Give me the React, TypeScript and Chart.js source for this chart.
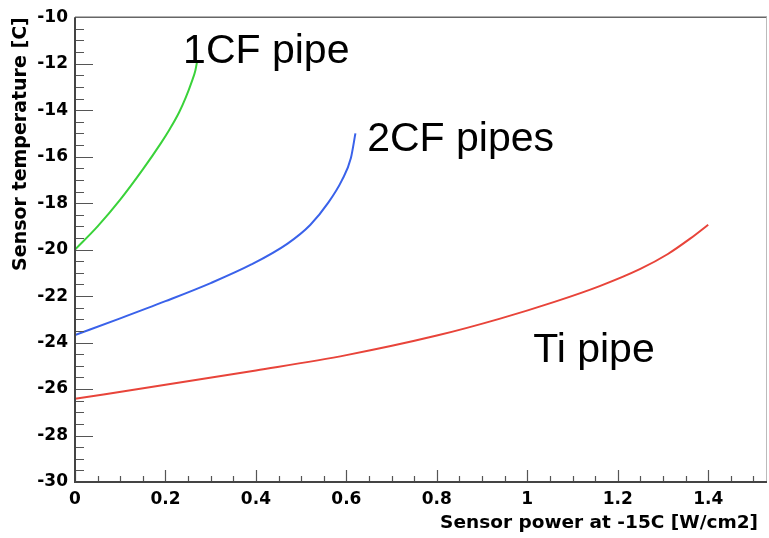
import React, { useEffect, useRef } from 'react';
import { Chart, registerables } from 'chart.js';

Chart.register(...registerables);

// ---- data ----
const seriesNames = ['1CF pipe', '2CF pipes', 'Ti pipe'];

const green1CFx = [0, 0.05, 0.1, 0.15, 0.19, 0.21, 0.23, 0.245, 0.258, 0.266, 0.27];
const green1CFy = [-20.0, -19.0, -17.85, -16.55, -15.42, -14.8, -14.1, -13.45, -12.78, -12.3, -11.9];

const blue2CFx = [0, 0.1, 0.2, 0.3, 0.39, 0.47, 0.52, 0.56, 0.59, 0.61, 0.62];
const blue2CFy = [-23.68, -22.96, -22.22, -21.44, -20.64, -19.74, -18.94, -17.98, -17.02, -16.06, -15.0];

const redTix = [0, 0.2, 0.4, 0.6, 0.8, 0.94, 1.06, 1.16, 1.25, 1.31, 1.36, 1.4];
const redTiy = [-26.42, -25.82, -25.2, -24.54, -23.7, -22.97, -22.25, -21.57, -20.83, -20.2, -19.53, -18.93];

const xTickLabels = ['0', '0.2', '0.4', '0.6', '0.8', '1', '1.2', '1.4'];
const yTickLabels = ['-30', '-28', '-26', '-24', '-22', '-20', '-18', '-16', '-14', '-12', '-10'];

const xTitle = 'Sensor power at -15C [W/cm2]';
const yTitle = 'Sensor temperature [C]';

const toPoints = (xs: number[], ys: number[]) => xs.map((x, i) => ({ x, y: ys[i] }));

const rootFramePlugin = {
  id: 'rootFrame',
  afterDatasetsDraw(chart: any, _args: any, opts: any) {
    const { ctx, chartArea: a, scales } = chart;
    const xs = scales.x;
    const ys = scales.y;
    ctx.save();
    // inner ticks
    ctx.strokeStyle = '#555';
    ctx.lineWidth = 1.2;
    ctx.beginPath();
    for (let i = 0; ; i++) {
      const v = i * 0.05;
      if (v > xs.max + 1e-9) break;
      const px = Math.round(xs.getPixelForValue(v)) + 0.5;
      const len = i % 4 === 0 ? 12 : 6;
      ctx.moveTo(px, a.bottom);
      ctx.lineTo(px, a.bottom - len);
    }
    for (let i = 0; ; i++) {
      const v = ys.min + i * 0.5;
      if (v > ys.max + 1e-9) break;
      const py = Math.round(ys.getPixelForValue(v)) + 0.5;
      const len = i % 4 === 0 ? 18 : 9;
      ctx.moveTo(a.left, py);
      ctx.lineTo(a.left + len, py);
    }
    ctx.stroke();
    // frame
    ctx.strokeStyle = '#666';
    ctx.lineWidth = 1.5;
    ctx.beginPath();
    ctx.moveTo(a.left, a.top);
    ctx.lineTo(a.right, a.top);
    ctx.stroke();
    ctx.strokeStyle = '#bbb';
    ctx.lineWidth = 1;
    ctx.beginPath();
    ctx.moveTo(a.right - 0.5, a.top);
    ctx.lineTo(a.right - 0.5, a.bottom);
    ctx.stroke();
    ctx.strokeStyle = '#444';
    ctx.lineWidth = 2;
    ctx.beginPath();
    ctx.moveTo(a.left, a.top);
    ctx.lineTo(a.left, a.bottom);
    ctx.lineTo(a.right, a.bottom);
    ctx.stroke();
    // x axis title (right aligned, slightly inside the frame edge)
    ctx.fillStyle = '#000';
    ctx.font = 'bold 18.5px "DejaVu Sans", Verdana, sans-serif';
    ctx.textAlign = 'right';
    ctx.textBaseline = 'alphabetic';
    ctx.fillText(opts.xTitle, a.right - 9, a.bottom + 46);
    // curve labels
    ctx.font = '41px "Liberation Sans", Arial, Helvetica, sans-serif';
    ctx.textAlign = 'left';
    (opts.labels || []).forEach((l: any) => {
      ctx.fillText(l.text, xs.getPixelForValue(l.x), ys.getPixelForValue(l.y));
    });
    ctx.restore();
  },
};

export default function App() {
  const canvasRef = useRef<HTMLCanvasElement | null>(null);

  useEffect(() => {
    document.body.style.margin = '0';
    document.body.style.background = '#fff';
    const canvas = canvasRef.current;
    if (!canvas) return;
    const tickFont = { family: '"DejaVu Sans", Verdana, sans-serif', size: 17, weight: 'bold' as const };
    const lineDefaults = {
      showLine: true,
      pointRadius: 0,
      borderWidth: 2,
      cubicInterpolationMode: 'monotone' as const,
    };
    const chart = new Chart(canvas, {
      type: 'scatter',
      data: {
        datasets: [
          { label: seriesNames[0], data: toPoints(green1CFx, green1CFy), borderColor: '#3ad23a', ...lineDefaults },
          { label: seriesNames[1], data: toPoints(blue2CFx, blue2CFy), borderColor: '#3a62ea', ...lineDefaults },
          { label: seriesNames[2], data: toPoints(redTix, redTiy), borderColor: '#e8443a', ...lineDefaults },
        ],
      },
      options: {
        animation: false,
        responsive: true,
        maintainAspectRatio: false,
        layout: { padding: { top: 14, right: 2, left: 0, bottom: 0 } },
        plugins: {
          legend: { display: false },
          tooltip: { enabled: false },
          rootFrame: {
            xTitle,
            labels: [
              { text: seriesNames[0], x: 0.239, y: -11.95 },
              { text: seriesNames[1], x: 0.646, y: -15.75 },
              { text: seriesNames[2], x: 1.013, y: -24.85 },
            ],
          },
        } as any,
        scales: {
          x: {
            type: 'linear',
            min: 0,
            max: 1.53,
            border: { display: false },
            grid: { display: false, drawTicks: false },
            ticks: {
              stepSize: 0.2,
              includeBounds: false,
              autoSkip: false,
              maxRotation: 0,
              padding: 7,
              color: '#000',
              font: tickFont,
              callback: (v: any) => {
                const i = Math.round(Number(v) / 0.2);
                return xTickLabels[i] ?? '';
              },
            },
            title: { display: false },
            afterFit: (scale: any) => {
              scale.height = 56;
            },
          },
          y: {
            type: 'linear',
            min: -30,
            max: -10,
            border: { display: false },
            grid: { display: false, drawTicks: false },
            ticks: {
              stepSize: 2,
              includeBounds: false,
              autoSkip: false,
              padding: 7,
              color: '#000',
              font: tickFont,
              callback: (v: any) => {
                const i = Math.round((Number(v) + 30) / 2);
                return yTickLabels[i] ?? '';
              },
            },
            title: {
              display: true,
              text: yTitle,
              align: 'end',
              color: '#000',
              font: { family: '"DejaVu Sans", Verdana, sans-serif', size: 19, weight: 'bold' },
              padding: { top: 10, bottom: 0 },
            },
            afterFit: (scale: any) => {
              scale.width = 75;
            },
          },
        },
      },
      plugins: [rootFramePlugin],
    } as any);
    return () => chart.destroy();
  }, []);

  return (
    <div style={{ width: 769, height: 538, position: 'relative', background: '#fff' }}>
      <canvas ref={canvasRef} />
    </div>
  );
}
